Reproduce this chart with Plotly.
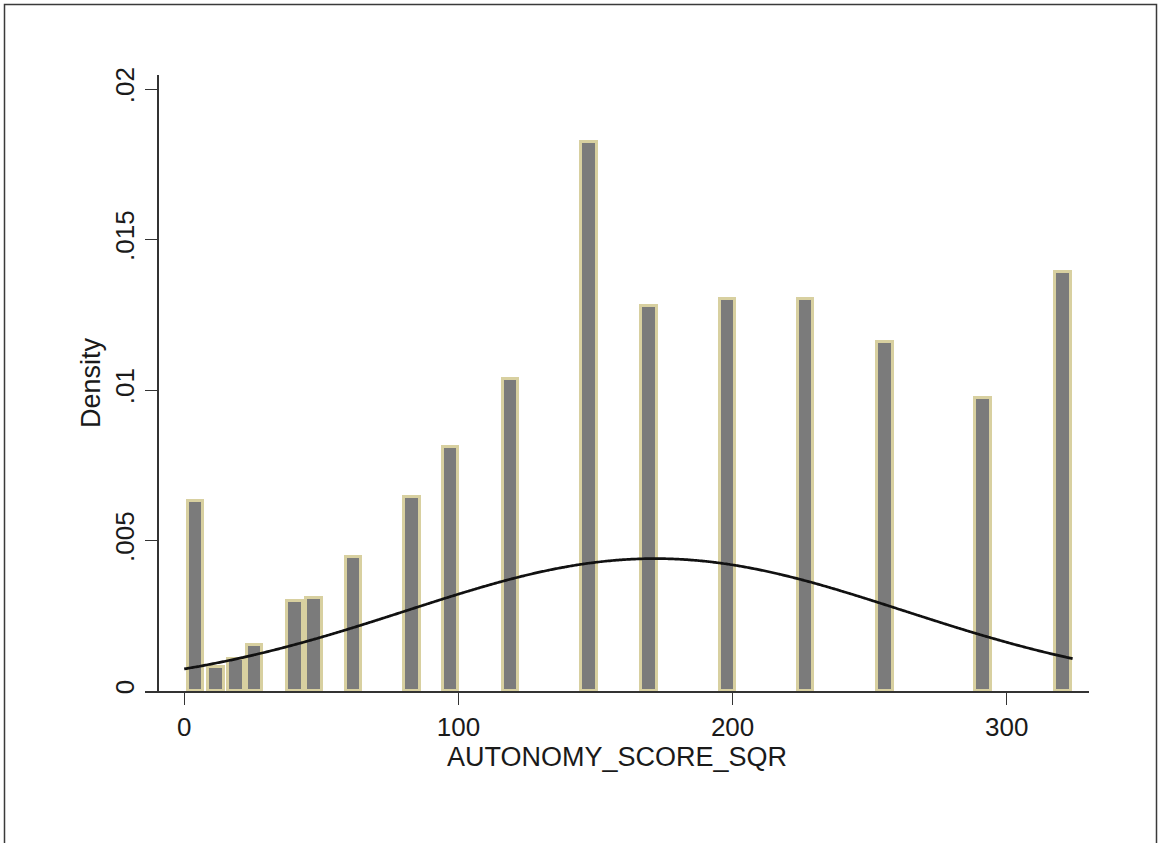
import numpy as np
import plotly.graph_objects as go

# Histogram bars of AUTONOMY_SCORE_SQR (bar centres and densities)
bar_centers = [4.1, 11.5, 18.8, 25.7, 40.3, 47.3, 61.7, 83.1, 97.1, 119.0,
               147.6, 169.4, 198.1, 226.6, 255.6, 291.3, 320.5]
bar_density = [0.00631, 0.00080, 0.00105, 0.00154, 0.00298, 0.00309, 0.00446,
               0.00645, 0.00811, 0.01037, 0.01824, 0.01279, 0.01302, 0.01302,
               0.01160, 0.00973, 0.01393]
bar_width = 5.7

# Normal density overlay parameters
norm_mean = 171.7
norm_sd = 90.7
x_min, x_max = 0.0, 324.0

x_ticks = [0, 100, 200, 300]
y_ticks = [0, 0.005, 0.01, 0.015, 0.02]
y_tick_text = ["0", ".005", ".01", ".015", ".02"]

xs = np.linspace(x_min, x_max, 400)
pdf = np.exp(-0.5 * ((xs - norm_mean) / norm_sd) ** 2) / (norm_sd * np.sqrt(2 * np.pi))

FONT = "Liberation Sans, Arial, Helvetica, sans-serif"

fig = go.Figure()
fig.add_trace(go.Bar(
    x=bar_centers, y=bar_density, width=bar_width,
    marker=dict(color="#7b7b7b", line=dict(color="#d8d0a0", width=3)),
    showlegend=False,
))
fig.add_trace(go.Scatter(
    x=xs, y=pdf, mode="lines",
    line=dict(color="#111111", width=2.7, shape="spline"),
    showlegend=False,
))

W, H = 1158, 843
L, R, T, B = 145, 69, 75, 152
plot_w = W - L - R
plot_h = H - T - B
px_per_unit_x = 2.742
px_per_unit_y = 30100.0
x0_px = 184.2

x_range = [(L - x0_px) / px_per_unit_x, (W - R - x0_px) / px_per_unit_x]
y_range = [0, plot_h / px_per_unit_y]

fig.update_layout(
    width=W, height=H,
    margin=dict(l=L, r=R, t=T, b=B),
    paper_bgcolor="white", plot_bgcolor="white",
    font=dict(family=FONT, color="#1a1a1a", size=26),
    bargap=0,
    xaxis=dict(
        range=x_range, tickvals=x_ticks, ticks="outside", ticklen=12,
        tickwidth=1.3, tickcolor="#333333",
        showline=True, linecolor="#333333", linewidth=1.5,
        showgrid=False, zeroline=False,
        tickfont=dict(size=26),
        title=dict(text="AUTONOMY_SCORE_SQR", font=dict(size=27), standoff=5),
    ),
    yaxis=dict(
        range=y_range, tickvals=y_ticks, ticktext=y_tick_text,
        anchor="free", position=(157.5 - L) / plot_w,
        ticks="outside", ticklen=12, tickwidth=1.3, tickcolor="#333333",
        tickangle=-90,
        showline=True, linecolor="#333333", linewidth=1.5,
        showgrid=False, zeroline=False,
        tickfont=dict(size=26),
        title=dict(text="Density", font=dict(size=27), standoff=1),
    ),
    shapes=[dict(
        type="rect", xref="paper", yref="paper",
        x0=(4.5 - L) / plot_w, x1=(W - 1.5 - L) / plot_w,
        y0=(H - B - 900) / plot_h, y1=(H - B - 4.5) / plot_h,
        line=dict(color="#3a3a3a", width=1.5), layer="above",
    )],
)

fig.write_html("out.html")
